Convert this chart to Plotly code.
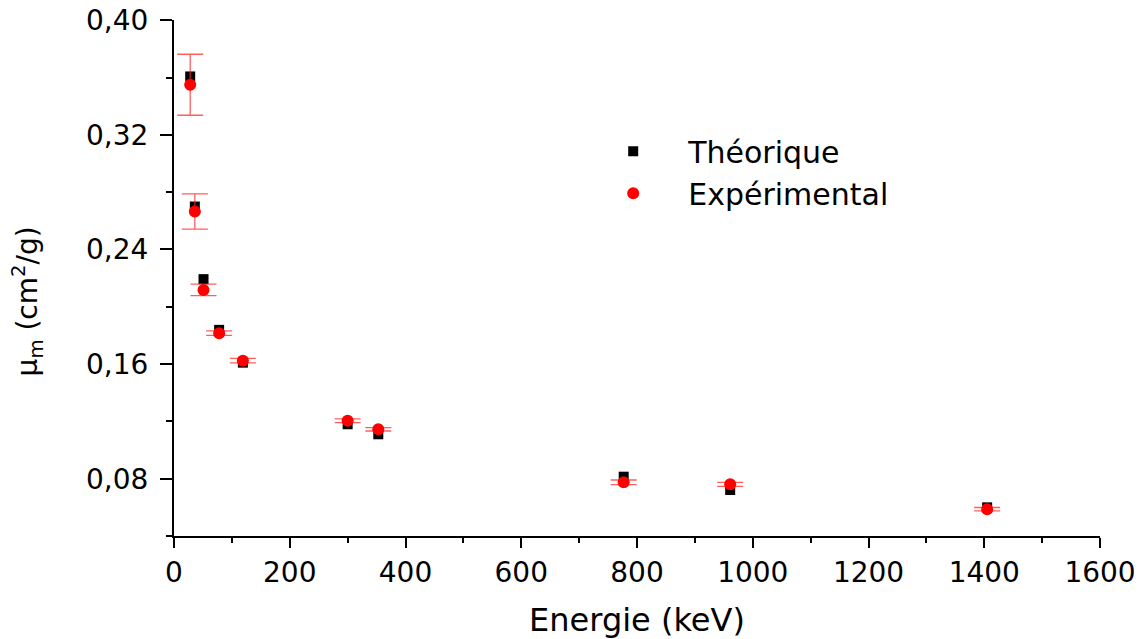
import plotly.graph_objects as go

# Data
energy_keV = [28, 36, 51, 78, 119, 300, 353, 777, 961, 1405]
mu_theo = [0.3608, 0.2700, 0.2193, 0.1839, 0.1610, 0.1180, 0.1110, 0.0814, 0.0721, 0.0600]
mu_exp = [0.3550, 0.2665, 0.2118, 0.1816, 0.1624, 0.1205, 0.1145, 0.0775, 0.0761, 0.0587]
mu_exp_err = [0.0213, 0.0123, 0.0040, 0.0016, 0.0016, 0.0013, 0.0012, 0.0016, 0.0014, 0.0012]

x_ticks = [0, 200, 400, 600, 800, 1000, 1200, 1400, 1600]
y_ticks = [0.08, 0.16, 0.24, 0.32, 0.40]
y_tick_text = ["0,08", "0,16", "0,24", "0,32", "0,40"]

FONT = "DejaVu Sans"

fig = go.Figure()
fig.add_trace(go.Scatter(
    x=energy_keV, y=mu_theo, mode="markers", name="Théorique",
    marker=dict(symbol="square", size=10, color="black"),
))
fig.add_trace(go.Scatter(
    x=energy_keV, y=mu_exp, mode="markers", name="Expérimental",
    marker=dict(symbol="circle", size=12, color="#ff0000"),
    error_y=dict(type="data", array=mu_exp_err, visible=True,
                 color="rgba(255,40,40,0.75)", thickness=1.3, width=13),
))

axis_common = dict(
    showline=True, linecolor="black", linewidth=2,
    ticks="outside", tickcolor="black", tickwidth=2,
    showgrid=False, zeroline=False, mirror=False, automargin=False,
    tickfont=dict(family=FONT, size=28, color="black"),
)

fig.update_layout(
    width=1148, height=639,
    margin=dict(l=174, r=48, t=20, b=103),
    paper_bgcolor="white", plot_bgcolor="white",
    separators=",.",
    font=dict(family=FONT, color="black"),
    xaxis=dict(
        range=[0, 1600], tickvals=x_ticks, ticklen=10,
        minor=dict(ticks="outside", ticklen=5, dtick=100, tick0=0, tickcolor="black", tickwidth=2),
        title=dict(text="Energie (keV)", font=dict(family=FONT, size=32, color="black"), standoff=22),
        **axis_common,
    ),
    yaxis=dict(
        range=[0.04, 0.4002], tickvals=y_ticks, ticktext=y_tick_text, ticklen=12,
        ticklabelstandoff=6,
        minor=dict(ticks="outside", ticklen=6, dtick=0.04, tick0=0, tickcolor="black", tickwidth=2),
        **axis_common,
    ),
    showlegend=True,
    legend=dict(
        x=0.4365, y=0.796, xanchor="left", yanchor="top",
        font=dict(family=FONT, size=30, color="black"),
        itemwidth=100, bgcolor="rgba(0,0,0,0)", borderwidth=0,
    ),
    annotations=[dict(
        text="μ<sub>m</sub> (cm<sup>2</sup>/g)", textangle=-90,
        xref="paper", yref="paper", x=-0.158, y=0.454,
        xanchor="center", yanchor="middle", showarrow=False,
        font=dict(family=FONT, size=28, color="black"),
    )],
)

fig.write_html("out.html")
